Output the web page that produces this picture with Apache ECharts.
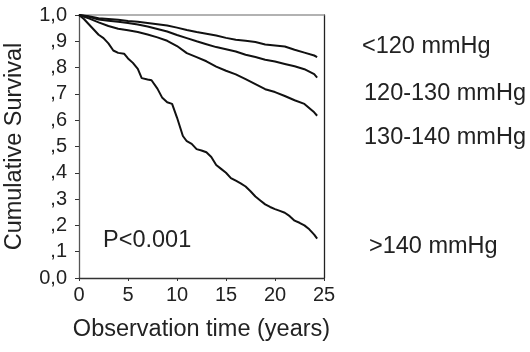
<!DOCTYPE html>
<html>
<head>
<meta charset="utf-8">
<script src="https://cdn.jsdelivr.net/npm/echarts@6/dist/echarts.min.js"></script>
<style>html,body{margin:0;padding:0;background:#fff;}#c{width:530px;height:352px;}</style>
</head>
<body>
<div id="c"></div>
<script>
var xTicks = [0, 5, 10, 15, 20, 25];
var yTickLabels = ['0,0', ',1', ',2', ',3', ',4', ',5', ',6', ',7', ',8', ',9', '1,0'];
var groupNames = ['<120 mmHg', '120-130 mmHg', '130-140 mmHg', '>140 mmHg'];

var timeA = [0,1,2,3,4,5,6,7,8,9,10,11,12,13,14,15,16,17,18,19,20,21,22,23,24,24.3];
var survLt120 = [1.0,0.995,0.988,0.985,0.982,0.977,0.974,0.970,0.965,0.960,0.952,0.943,0.935,0.929,0.922,0.913,0.906,0.902,0.897,0.888,0.884,0.880,0.868,0.857,0.846,0.840];
var surv120to130 = [1.0,0.993,0.983,0.978,0.974,0.970,0.964,0.956,0.947,0.937,0.924,0.912,0.900,0.889,0.878,0.870,0.861,0.849,0.840,0.830,0.823,0.814,0.805,0.794,0.775,0.762];
var surv130to140 = [1.0,0.987,0.972,0.958,0.948,0.942,0.935,0.926,0.915,0.902,0.882,0.855,0.840,0.824,0.804,0.788,0.774,0.756,0.737,0.718,0.707,0.692,0.676,0.662,0.630,0.617];

var timeB = [0,0.5,1,1.5,2,2.5,3,3.5,4,4.6,5,5.5,6,6.4,7,7.4,8,8.5,9,9.5,10,10.3,10.6,11,11.5,12,12.5,13,13.5,14,14.5,15,15.5,16,16.5,17,17.5,18,18.5,19,19.5,20,20.5,21,21.5,22,22.5,23,23.5,24,24.3];
var survGt140 = [1.0,0.985,0.965,0.945,0.925,0.912,0.892,0.865,0.856,0.853,0.835,0.818,0.795,0.760,0.755,0.752,0.720,0.685,0.668,0.662,0.610,0.575,0.540,0.520,0.510,0.490,0.485,0.478,0.460,0.430,0.415,0.400,0.380,0.370,0.360,0.348,0.330,0.310,0.295,0.280,0.270,0.262,0.255,0.248,0.235,0.218,0.210,0.200,0.185,0.165,0.150];

function pairs(t, s) { return t.map(function (v, i) { return [v, s[i]]; }); }

var FONT = '"Liberation Sans", Arial, Helvetica, sans-serif';
var BIG = 23.5;
var chart = echarts.init(document.getElementById('c'), null, { renderer: 'canvas' });

function lineSeries(name, t, s) {
  return {
    name: name, type: 'line', xAxisIndex: 0, yAxisIndex: 0,
    data: pairs(t, s), showSymbol: false, symbol: 'none',
    lineStyle: { color: '#111', width: 2 }, silent: true, animation: false
  };
}

chart.setOption({
  animation: false,
  backgroundColor: '#fff',
  grid: { left: 79, right: 206, top: 15, bottom: 74, containLabel: false },
  xAxis: [{
    type: 'value', min: 0, max: 25, interval: 5, position: 'bottom',
    name: 'Observation time (years)', nameLocation: 'middle', nameGap: 40,
    nameTextStyle: { fontFamily: FONT, fontSize: BIG, color: '#222' },
    axisLine: { show: true, lineStyle: { color: '#333', width: 1.3 } },
    axisTick: { show: true, length: 3, inside: false, lineStyle: { color: '#333' } },
    axisLabel: { fontFamily: FONT, fontSize: 20, color: '#222', margin: 7 },
    splitLine: { show: false }
  }, {
    type: 'value', min: 0, max: 25, position: 'top',
    axisLine: { show: true, onZero: false, lineStyle: { color: '#999', width: 1.5 } },
    axisTick: { show: false }, axisLabel: { show: false }, splitLine: { show: false }
  }],
  yAxis: [{
    type: 'value', min: 0, max: 1, interval: 0.1, position: 'left',
    name: 'Cumulative Survival', nameLocation: 'middle', nameGap: 52,
    nameTextStyle: { fontFamily: FONT, fontSize: BIG, color: '#222' },
    axisLine: { show: true, lineStyle: { color: '#555', width: 1.3 } },
    axisTick: { show: true, length: 4, lineStyle: { color: '#333' } },
    axisLabel: {
      fontFamily: FONT, fontSize: 20, color: '#222', margin: 12,
      formatter: function (v) { return yTickLabels[Math.round(v * 10)]; }
    },
    splitLine: { show: false }
  }, {
    type: 'value', min: 0, max: 1, position: 'right',
    axisLine: { show: true, onZero: false, lineStyle: { color: '#222', width: 1.3 } },
    axisTick: { show: false }, axisLabel: { show: false }, splitLine: { show: false }
  }],
  series: [
    lineSeries(groupNames[0], timeA, survLt120),
    lineSeries(groupNames[1], timeA, surv120to130),
    lineSeries(groupNames[2], timeA, surv130to140),
    lineSeries(groupNames[3], timeB, survGt140)
  ],
  graphic: [
    { type: 'text', left: 103, top: 229, style: { text: 'P<0.001', font: BIG + 'px ' + FONT, fill: '#222' } },
    { type: 'text', left: 362, top: 35, style: { text: groupNames[0], font: BIG + 'px ' + FONT, fill: '#222' } },
    { type: 'text', left: 364, top: 82, style: { text: groupNames[1], font: BIG + 'px ' + FONT, fill: '#222' } },
    { type: 'text', left: 364, top: 126, style: { text: groupNames[2], font: BIG + 'px ' + FONT, fill: '#222' } },
    { type: 'text', left: 369, top: 235, style: { text: groupNames[3], font: BIG + 'px ' + FONT, fill: '#222' } }
  ]
});
</script>
</body>
</html>
